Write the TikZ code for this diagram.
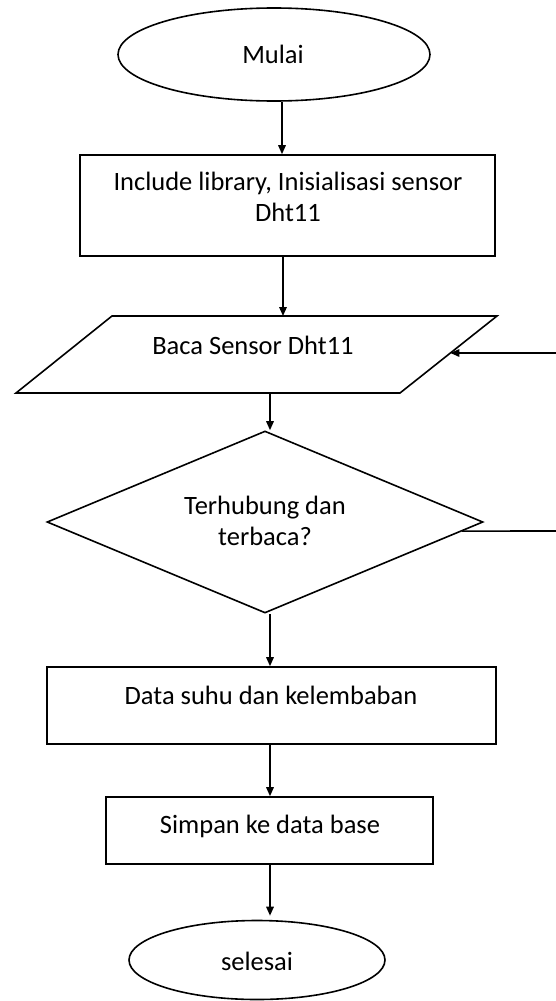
\documentclass[tikz,border=0pt]{standalone}
\usepackage{fontspec}
\setmainfont{Carlito}
\usetikzlibrary{arrows.meta,shapes.geometric,calc}
\tikzset{
  lw/.style={line width=1.6pt},
  arr/.style={lw,-{Triangle[length=9pt,width=7.5pt]}},
  lbl/.style={font=\fontsize{26.5}{31}\selectfont,align=center,inner sep=0pt},
  term/.style={ellipse,draw,lw,inner sep=0pt},
  procbox/.style={rectangle,draw,lw,inner sep=0pt},
  decbox/.style={diamond,draw,lw,inner sep=0pt},
}
\begin{document}
\begin{tikzpicture}[x=1pt,y=-1pt]
\useasboundingbox[fill=white] (0,0) rectangle (555,1001);
% terminals
\node[term,minimum width=312pt,minimum height=93pt] (mulai) at (274,54.5) {};
\node[lbl] (mulaiT) at (273,54) {Mulai};
\node[term,minimum width=256pt,minimum height=79pt] (selesai) at (257,960) {};
\node[lbl] (selesaiT) at (257,961) {selesai};
% process 1
\node[procbox,minimum width=415pt,minimum height=101pt] (inc) at (287.5,205.5) {};
\node[lbl] (incT) at (288,197) {Include library, Inisialisasi sensor\\Dht11};
% input parallelogram
\coordinate (pTL) at (112,316);
\coordinate (pTR) at (497,316);
\coordinate (pBR) at (400,393);
\coordinate (pBL) at (16,393);
\draw[lw,line join=miter] (pTL) -- (pTR) -- (pBR) -- (pBL) -- cycle;
\node[lbl] (bacaT) at (253,345) {Baca Sensor Dht11};
% decision
\node[decbox,minimum width=436pt,minimum height=182pt] (dia) at (265,522) {};
\node[lbl] (diaT) at (265,521) {Terhubung dan\\terbaca?};
% process 2, 3
\node[procbox,minimum width=449pt,minimum height=77pt] (data) at (271.5,705.5) {};
\node[lbl] (dataT) at (271,695) {Data suhu dan kelembaban};
\node[procbox,minimum width=327pt,minimum height=67pt] (simpan) at (269.5,830.5) {};
\node[lbl] (simpanT) at (270,826) {Simpan ke data base};
% connectors
\draw[arr] ([xshift=8pt]mulai.south) -- ([xshift=8pt]mulai.south |- inc.north);
\draw[arr] ([xshift=-4.5pt]inc.south) -- ([xshift=-4.5pt]inc.south |- pTL);
\coordinate (bOut) at (270,393);
\draw[arr] (bOut) -- (bOut |- dia.north);
\draw[arr] ([xshift=5pt]dia.south) -- ([xshift=5pt]dia.south |- data.north);
\draw[arr] ([xshift=-1.5pt]data.south) -- ([xshift=-1.5pt]data.south |- simpan.north);
\draw[arr] ([xshift=0.5pt]simpan.south) -- ([xshift=0.5pt,yshift=4pt]simpan.south |- selesai.north);
% loop lines to the right edge
\coordinate (edgeA) at (556,353);
\coordinate (slantA) at ($(pTR)!0.4805!(pBR)$);
\draw[arr] (edgeA) -- (slantA);
\coordinate (edgeB) at (556,531);
\draw[lw] ($(dia.east)!0.099!(dia.south)$) -- (edgeB);
\end{tikzpicture}
\end{document}
